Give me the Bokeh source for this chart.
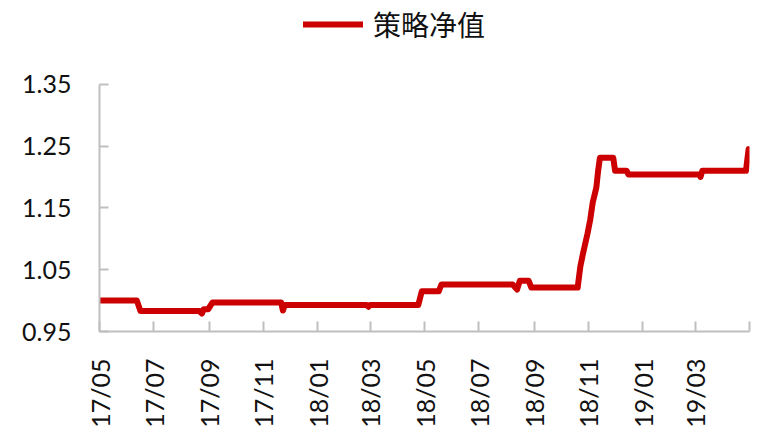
import pandas as pd
from bokeh.plotting import figure
from bokeh.models import (ColumnDataSource, Range1d, FixedTicker, Legend, LegendItem)
from bokeh.embed import file_html
from bokeh.resources import INLINE

# ---- data ----
dates = ["2017-05-01", "2017-06-12", "2017-06-16", "2017-08-21", "2017-08-24",
         "2017-08-26", "2017-08-31", "2017-09-05", "2017-11-21", "2017-11-23",
         "2017-11-25", "2018-02-25", "2018-02-27", "2018-03-01", "2018-04-24",
         "2018-04-28", "2018-05-17", "2018-05-20", "2018-08-08", "2018-08-13",
         "2018-08-16", "2018-08-26", "2018-08-29", "2018-10-20", "2018-10-23",
         "2018-10-26", "2018-10-31", "2018-11-03", "2018-11-06", "2018-11-10",
         "2018-11-12", "2018-11-14", "2018-11-29", "2018-12-01", "2018-12-14",
         "2018-12-16", "2019-03-06", "2019-03-07", "2019-03-09", "2019-04-27",
         "2019-04-30"]
nav = [1.000, 1.000, 0.983, 0.983, 0.979,
       0.986, 0.986, 0.997, 0.997, 0.984,
       0.993, 0.993, 0.990, 0.993, 0.993,
       1.015, 1.015, 1.026, 1.026, 1.018,
       1.032, 1.032, 1.021, 1.021, 1.055,
       1.076, 1.108, 1.130, 1.159, 1.183,
       1.210, 1.231, 1.231, 1.210, 1.210,
       1.204, 1.204, 1.200, 1.210, 1.210,
       1.245]
series_name = "策略净值"

tick_dates = ["2017-05-01", "2017-07-01", "2017-09-01", "2017-11-01", "2018-01-01",
              "2018-03-01", "2018-05-01", "2018-07-01", "2018-09-01", "2018-11-01",
              "2019-01-01", "2019-03-01", "2019-05-01"]
tick_labels = ["17/05", "17/07", "17/09", "17/11", "18/01", "18/03", "18/05",
               "18/07", "18/09", "18/11", "19/01", "19/03", ""]
y_ticks = [0.95, 1.05, 1.15, 1.25, 1.35]
y_labels = ["0.95", "1.05", "1.15", "1.25", "1.35"]
y_min, y_max = 0.95, 1.35

# ---- layout (pixels) ----
W, H = 757, 430
frame_left, frame_right = 99, 749
axis_top, frame_bottom = 85, 336     # where 1.35 and 0.95 sit
frame_top = 0                         # frame extends above the axis for the legend
span_per_px = (y_max - y_min) / (frame_bottom - axis_top)
y_top = y_min + span_per_px * (frame_bottom - frame_top)

# ---- build ----
x = pd.to_datetime(dates)
src = ColumnDataSource(dict(x=x, y=nav))

tick_ms = [pd.Timestamp(d).value / 1e6 for d in tick_dates]

p = figure(width=W, height=H, output_backend="svg", toolbar_location=None,
           x_axis_type="datetime",
           x_range=Range1d(pd.Timestamp(tick_dates[0]), pd.Timestamp(tick_dates[-1])),
           y_range=Range1d(y_min, y_top),
           min_border_left=frame_left, min_border_right=W - frame_right,
           min_border_top=frame_top, min_border_bottom=H - frame_bottom)
p.outline_line_color = None
p.xgrid.visible = False
p.ygrid.visible = False
p.background_fill_color = "white"
p.border_fill_color = "white"

r = p.line("x", "y", source=src, line_color="#cc0000", line_width=6,
           line_join="round", line_cap="round")

axis_col = "#bfbfbf"
font = "Lato"

xa = p.xaxis[0]
xa.ticker = FixedTicker(ticks=tick_ms)
xa.major_label_overrides = {t: l for t, l in zip(tick_ms, tick_labels)}
xa.major_label_orientation = 3.14159265 / 2
xa.axis_line_color = axis_col
xa.axis_line_width = 2
xa.major_tick_line_color = axis_col
xa.major_tick_line_width = 2
xa.major_tick_in = 10
xa.major_tick_out = 0
xa.minor_tick_line_color = None
xa.major_label_text_font = font
xa.major_label_text_font_size = "25px"
xa.major_label_text_color = "#111111"
xa.major_label_standoff = 27

ya = p.yaxis[0]
ya.ticker = FixedTicker(ticks=y_ticks)
ya.bounds = (y_min, y_max)
ya.major_label_overrides = {t: l for t, l in zip(y_ticks, y_labels)}
ya.axis_line_color = axis_col
ya.axis_line_width = 2
ya.major_tick_line_color = axis_col
ya.major_tick_line_width = 2
ya.major_tick_in = 9
ya.major_tick_out = 0
ya.minor_tick_line_color = None
ya.major_label_text_font = font
ya.major_label_text_font_size = "25px"
ya.major_label_text_color = "#111111"
ya.major_label_standoff = 28

# legend centred near y=27, glyph starting at x=303
legend = Legend(items=[LegendItem(label=series_name, renderers=[r])],
                location=(303 - frame_left, frame_bottom - 49), orientation="horizontal",
                glyph_width=60, glyph_height=24, label_height=24,
                label_standoff=10, padding=0, margin=0, spacing=0,
                border_line_color=None, background_fill_alpha=0,
                label_text_font="Noto Sans CJK SC", label_text_font_size="28px",
                label_text_color="#111111")
p.add_layout(legend, "center")

open("out.html", "w").write(file_html(p, INLINE))
